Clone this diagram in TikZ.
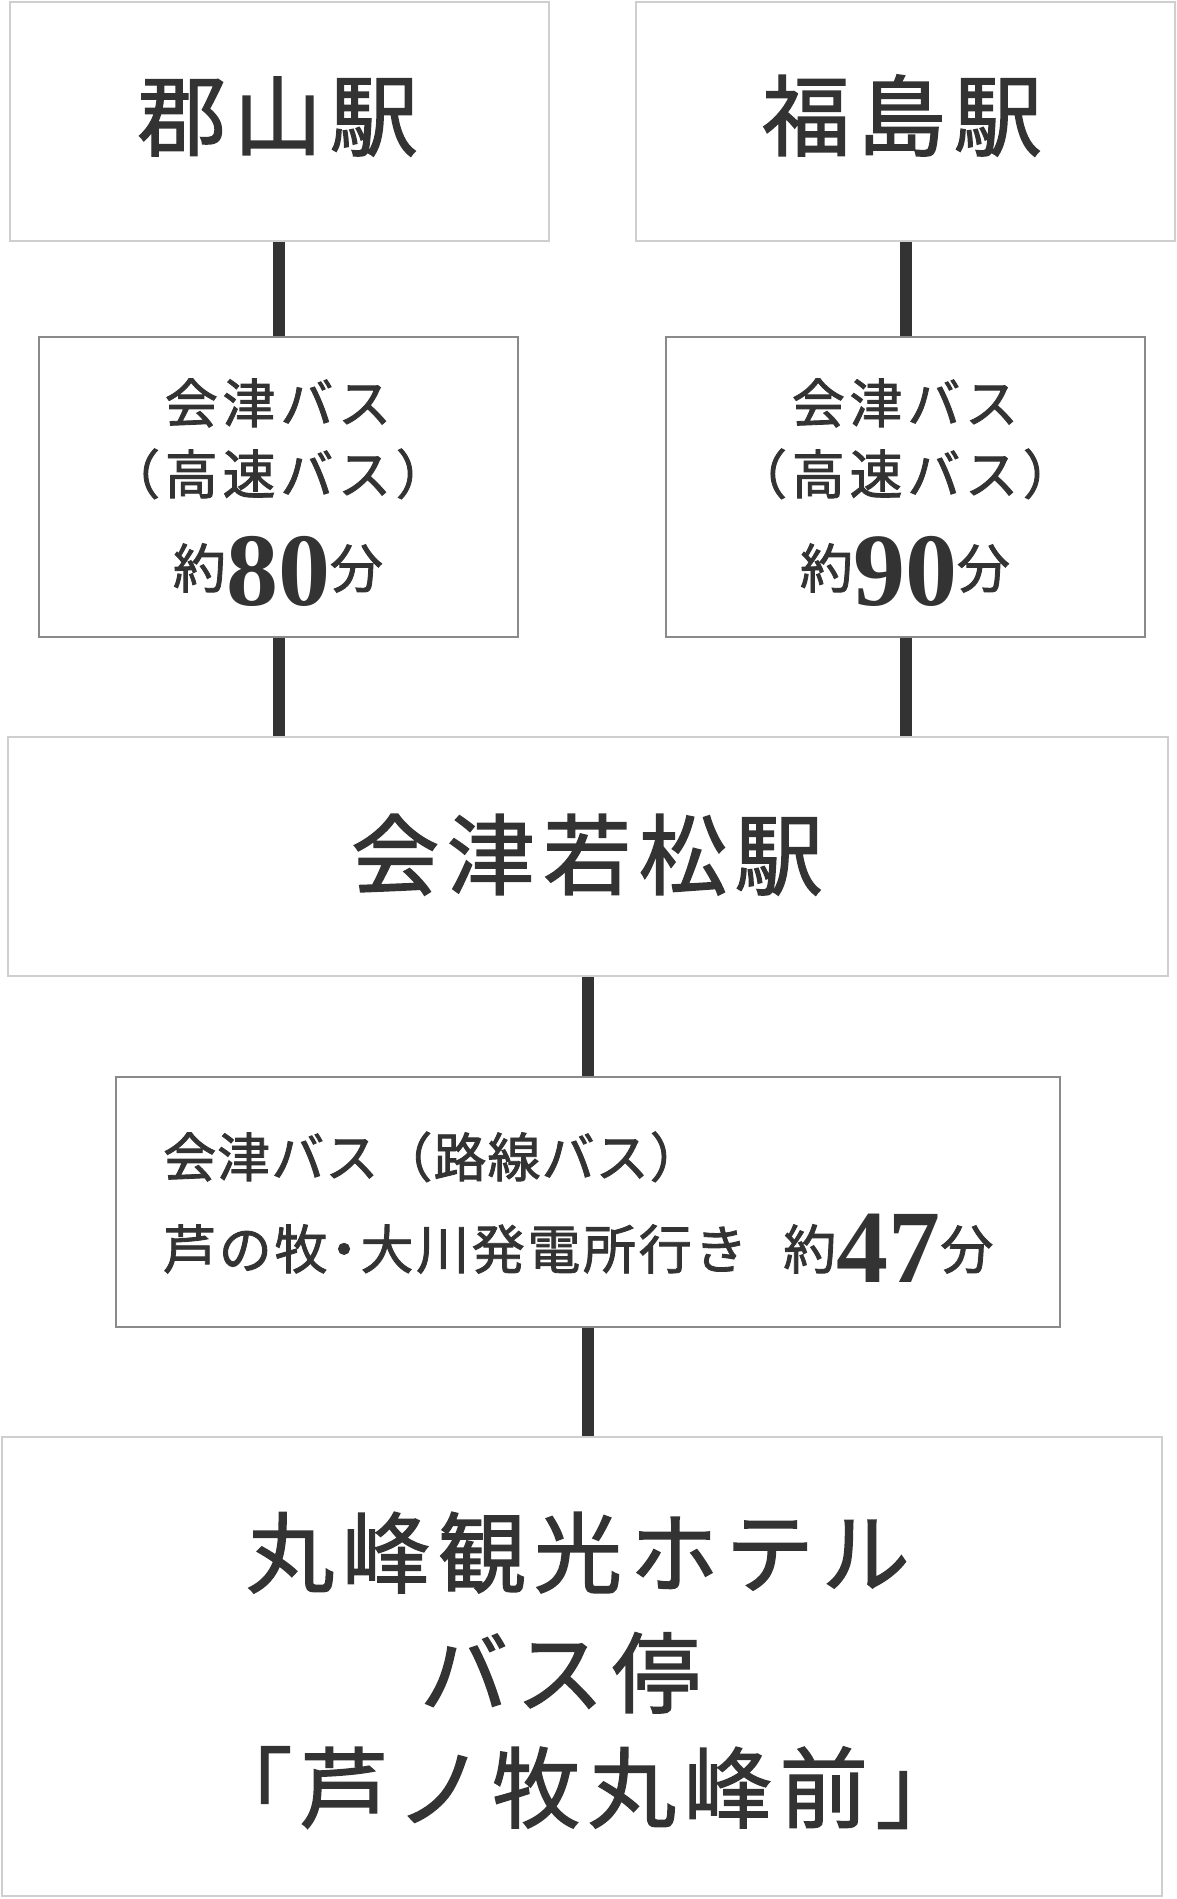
\documentclass[tikz,border=0pt]{standalone}
\usepackage{fontspec}
\setmainfont{Noto Sans CJK JP}[FakeBold=1.6]
\newfontfamily\numfont{Liberation Serif Bold}
\definecolor{ink}{HTML}{333333}
\definecolor{paleline}{HTML}{CFCFCF}
\definecolor{midline}{HTML}{8A8A8A}
\newcommand\lift[2]{\raisebox{#1}{#2}}
\newcommand\bignum[1]{{\numfont\fontsize{104}{104}\selectfont #1}}
\tikzstyle{station}=[draw=paleline, line width=2pt, inner sep=0pt]
\tikzstyle{busbox}=[draw=midline, line width=1.5pt, inner sep=0pt]
\tikzstyle{bigtext}=[text=ink, inner sep=0pt, anchor=base, font=\fontsize{88}{88}\selectfont\addfontfeature{LetterSpace=9}]
\tikzstyle{bustext}=[text=ink, inner sep=0pt, anchor=base, font=\fontsize{53}{53}\selectfont\addfontfeature{LetterSpace=9}]
\tikzstyle{routetext}=[text=ink, inner sep=0pt, anchor=base west, font=\fontsize{53}{53}\selectfont\addfontfeature{LetterSpace=2}]
\tikzstyle{link}=[draw=ink, line width=12pt]

\begin{document}
\begin{tikzpicture}[x=1pt, y=-1pt]
  \useasboundingbox (0,0) rectangle (1177,1899);

  % boxes
  \node[station, minimum width=539pt, minimum height=239pt] (koriyama) at (279.5,121.5) {};
  \node[station, minimum width=539pt, minimum height=239pt] (fukushima) at (905.5,121.5) {};
  \node[busbox, minimum width=479pt, minimum height=300pt] (busL) at (278.5,487) {};
  \node[busbox, minimum width=479pt, minimum height=300pt] (busR) at (905.5,487) {};
  \node[station, minimum width=1160pt, minimum height=239pt] (aizu) at (588,856.5) {};
  \node[busbox, minimum width=944pt, minimum height=250pt] (route) at (588,1202) {};
  \node[station, minimum width=1160pt, minimum height=459pt] (hotel) at (582,1666.5) {};

  % texts
  \node[bigtext] (koriyamaT) at (278,149) {郡山駅};
  \node[bigtext] (fukushimaT) at (902,149) {福島駅};
  \node[bigtext] (aizuT) at (587,888) {会津若松駅};

  \foreach \x/\name/\num in {278/L/80, 905/R/90} {
    \node[bustext] (bus\name1) at (\x,423) {会津バス};
    \node[bustext] (bus\name2) at (\x,494) {（高速バス）};
    \node[bustext] (bus\name3) at (\x,605) {\lift{17pt}{約}\bignum{\num}\lift{17pt}{分}};
  }

  \node[routetext] (route1) at (163,1177) {会津バス（路線バス）};
  \node[routetext] (route2) at (163,1282) {\addfontfeature{LetterSpace=5}\lift{13pt}{芦の牧\hspace{-10pt}・\hspace{-10pt}大川発電所行き}\hspace{36pt}\lift{13pt}{約}\bignum{47}\lift{13pt}{分}};

  \node[bigtext] (hotel1) at (578,1586) {丸峰観光ホテル};
  \node[bigtext] (hotel2) at (560,1706) {バス停};
  \node[bigtext] (hotel3) at (584,1821) {「芦ノ牧丸峰前」};

  % connectors
  \path[link] (busL.north |- koriyama.south) -- (busL.north);
  \path[link] (busR.north |- fukushima.south) -- (busR.north);
  \foreach \bus in {busL, busR} {
    \path[link] (\bus.south) -- (\bus.south |- aizu.north);
  }
  \path[link] (aizu.south) -- (route.north);
  \path[link] (route.south) -- (route.south |- hotel.north);
\end{tikzpicture}
\end{document}
